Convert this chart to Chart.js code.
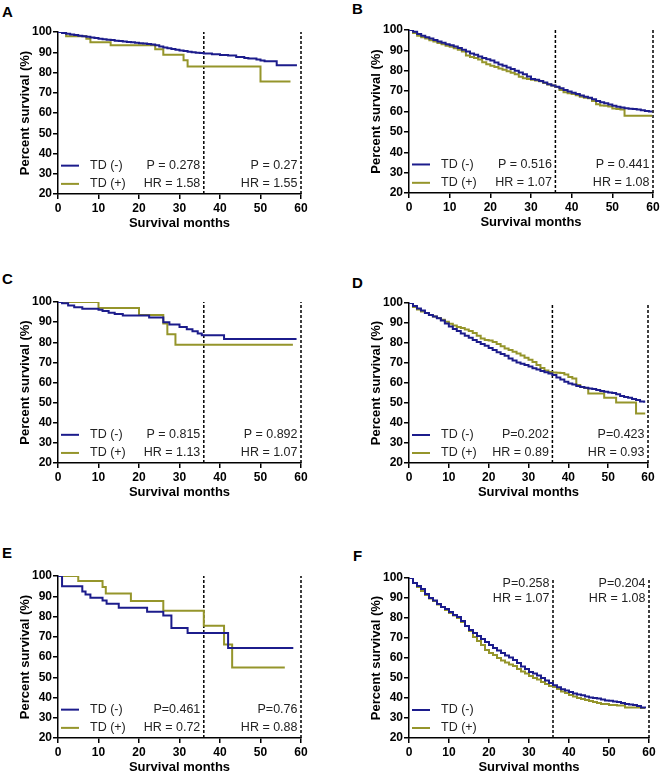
<!DOCTYPE html>
<html>
<head>
<meta charset="utf-8">
<script src="https://cdn.jsdelivr.net/npm/chart.js@4.4.0/dist/chart.umd.min.js"></script>
<style>
body { margin: 0; background: #fff; width: 660px; height: 773px; position: relative; overflow: hidden; }
canvas { position: absolute; }
.lbl { position: absolute; font: bold 15px/15px "Liberation Sans", Arial, sans-serif; color: #000; }
</style>
</head>
<body>
<div class="lbl" style="left:2px;top:4px">A</div>
<div class="lbl" style="left:352px;top:1px">B</div>
<div class="lbl" style="left:2px;top:271px">C</div>
<div class="lbl" style="left:352px;top:275px">D</div>
<div class="lbl" style="left:2px;top:545px">E</div>
<div class="lbl" style="left:353px;top:548px">F</div>
<script>
// ---- data (months, percent survival) ----
var groupNames = ['TD (-)', 'TD (+)'];
var xTicks = [0, 10, 20, 30, 40, 50, 60];
var yTicks = [20, 30, 40, 50, 60, 70, 80, 90, 100];
var cutMonths = [36, 60];

// A
var aNegT = [0,1,2,3,4,5,6,7,8,9,10,11,12,13,14,15,16,17,18,19,20,21,22,23,24,25,26,27,28,29,30,31,32,33,34,35,36,38,40,42,44,46,47,49,50,51,54,59];
var aNegS = [100,99.5,99.1,98.8,98.5,98.2,97.9,97.6,97.3,97.0,96.7,96.4,96.2,96.0,95.7,95.5,95.3,95.1,94.9,94.7,94.5,94.3,94.1,93.8,93.4,92.9,92.4,92.0,91.6,91.2,90.9,90.6,90.3,90.0,89.8,89.6,89.4,89.0,88.7,88.4,87.6,87.2,86.9,86.4,85.9,85.6,83.6,83.6];
var aPosT = [0,2,7,8,13,24,26,31,32,50,57.4];
var aPosS = [100,97.9,96.7,95.0,93.5,91.5,88.8,86.0,83.0,75.6,75.6];
var aStats = ['P = 0.278', 'HR = 1.58', 'P = 0.27', 'HR = 1.55'];

// B
var bT = [0,1,2,3,4,5,6,7,8,9,10,11,12,13,14,15,16,17,18,19,20,21,22,23,24,25,26,27,28,29,30,31,32,33,34,35,36,37,38,39,40,41,42,43,44,45,46,47,48,49,50,51,52,53,54,55,56,57,58,59,59.8];
var bNegS = [100,99.2,98.0,97.2,96.5,95.8,95.1,94.4,93.7,93.0,92.5,91.9,91.2,90.3,89.4,88.5,87.8,87.0,86.3,85.7,85.0,84.0,83.1,82.4,81.6,80.8,80.0,79.2,78.3,77.2,76.0,75.6,75.0,74.2,73.4,72.8,72.2,71.4,70.6,69.8,69.2,68.6,67.9,67.2,66.7,66.0,65.2,64.6,64.0,63.4,62.8,62.3,62.0,61.6,61.4,61.2,61.0,60.6,60.2,60.0,60.0];
var bPosS = [100,98.5,97.2,96.5,95.8,95.0,94.3,93.6,93.0,92.3,91.8,91.1,90.3,89.5,87.5,86.8,86.2,85.5,84.2,83.2,82.5,81.8,81.1,80.5,79.8,79.0,78.3,77.0,76.3,76.0,75.6,75.2,74.8,74.0,73.3,72.7,72.0,70.5,69.5,69.0,68.6,68.0,67.3,66.8,66.5,65.2,63.5,63.0,62.8,62.5,61.5,61.2,61.0,57.9,57.9,57.9,57.9,57.9,57.9,57.9,57.9];
var bStats = ['P = 0.516', 'HR = 1.07', 'P = 0.441', 'HR = 1.08'];

// C
var cNegT = [0,1,2.5,4,6,10,11,12.5,14,16,22.5,26,27.5,30,31.8,33.2,34.5,35.5,41,58.9];
var cNegS = [100,99.4,98.3,97.4,96.7,96.2,95.5,94.7,94.0,93.3,92.3,90.0,88.8,87.6,86.5,85.5,84.3,83.5,81.6,81.6];
var cPosT = [0,10,20,26,27,29,58];
var cPosS = [100,97,93.6,89.3,84,78.8,78.8];
var cStats = ['P = 0.815', 'HR = 1.13', 'P = 0.892', 'HR = 1.07'];

// D
var dT = [0,1,2,3,4,5,6,7,8,9,10,11,12,13,14,15,16,17,18,19,20,21,22,23,24,25,26,27,28,29,30,31,32,33,34,35,36,37,38,39,40,41,42,43,44,45,46,47,48,49,50,51,52,53,54,55,56,57,58,59,59.3];
var dNegS = [100,98.5,97.2,96.2,95.0,94.0,93.2,92.4,91.3,89.7,88.3,87.0,86.0,84.8,83.6,82.6,81.5,80.5,79.5,78.6,77.5,76.5,75.4,74.5,73.6,72.3,71.2,70.3,69.6,69.0,68.2,67.4,66.8,66.0,65.4,64.8,64.0,62.8,61.7,60.6,59.8,59.2,58.5,58.0,57.6,57.3,57.0,56.5,56.0,55.6,55.3,55.0,54.4,53.5,53.0,52.6,52.0,51.5,50.8,50.6,50.6];
var dPosS = [100,98.0,96.8,95.8,95.0,94.0,93.3,92.5,91.6,90.6,89.6,88.8,88.0,87.5,86.8,86.0,85.0,83.6,82.2,81.5,81.3,80.5,79.5,78.4,77.2,76.5,75.6,74.8,73.8,72.6,71.6,70.5,69.0,67.5,66.3,65.5,65.3,65.1,65.0,64.3,63.0,62.2,59.0,58.0,57.5,54.7,54.7,54.7,54.7,52.6,52.6,52.6,50.2,50.2,50.2,50.2,50.2,44.7,44.7,44.7,44.7];
var dStats = ['P=0.202', 'HR = 0.89', 'P=0.423', 'HR = 0.93'];

// E
var eNegT = [0,1,6,6.8,8,11,12,15,22,26,28,32,42,58.1];
var eNegS = [100,95,92.3,90.9,89.2,87.9,86.3,84.3,82.3,80.5,74.3,71.8,64.5,64.5];
var ePosT = [0,5,11,11.8,18,26,36,41,43,56];
var ePosS = [100,97.5,94.6,91.3,87.7,82.9,75.4,66.2,54.8,54.8];
var eStats = ['P=0.461', 'HR = 0.72', 'P=0.76', 'HR = 0.88'];

// F
var fT = [0,1,2,3,4,5,6,7,8,9,10,11,12,13,14,15,16,17,18,19,20,21,22,23,24,25,26,27,28,29,30,31,32,33,34,35,36,37,38,39,40,41,42,43,44,45,46,47,48,49,50,51,52,53,54,55,56,57,58,59];
var fNegS = [100,97.5,96.0,94.5,92.0,90.0,88.8,87.0,85.5,84.5,83.0,81.5,80.5,78.5,76.0,74.0,72.5,71.0,69.5,68.0,66.5,65.0,63.8,62.5,61.3,60.2,59.0,57.5,55.8,54.5,53.0,52.2,51.2,50.0,48.8,47.5,46.4,45.4,44.4,43.7,43.0,42.2,41.8,41.4,40.8,40.3,40.0,39.7,39.3,38.8,38.6,38.3,38.0,37.5,37.0,36.8,36.5,36.0,35.2,34.8];
var fPosS = [100,97.5,95.5,93.5,91.5,89.8,88.5,86.8,85.5,84.0,82.5,81.2,80.0,78.0,76.0,73.5,70.5,68.5,66.5,64.0,62.5,61.5,60.0,58.8,57.8,56.8,56.0,54.5,53.3,52.3,51.0,50.0,49.3,48.0,47.0,46.0,45.5,44.5,43.3,42.5,41.5,40.8,40.0,39.5,39.0,38.5,38.0,37.5,37.0,37.0,36.5,36.5,36.3,36.3,35.3,35.3,35.3,35.3,35.0,35.0];
var fStats = ['P=0.258', 'HR = 1.07', 'P=0.204', 'HR = 1.08'];

// ---- drawing ----
var negColor = '#1c1c8c';
var posColor = '#95952b';
var fontFam = '"Liberation Sans", Arial, sans-serif';
Chart.defaults.font.family = fontFam;

function toPoints(t, s) {
    var pts = [];
    for (var i = 0; i < t.length; i++) pts.push({x: t[i], y: s[i]});
    return pts;
}

// legend + P/HR text inside the plot
var notesPlugin = {
    id: 'notes',
    afterDatasetsDraw: function (chart, args, opts) {
        var ctx = chart.ctx, xs = chart.scales.x, ys = chart.scales.y, area = chart.chartArea;
        ctx.save();
        ctx.font = '12.5px ' + fontFam;
        ctx.textBaseline = 'middle';
        var rows = [34, 25];
        var cols = [negColor, posColor];
        for (var i = 0; i < 2; i++) {
            var py = ys.getPixelForValue(rows[i]);
            ctx.strokeStyle = cols[i];
            ctx.lineWidth = 2;
            ctx.beginPath();
            ctx.moveTo(area.left + 3, py);
            ctx.lineTo(area.left + 21, py);
            ctx.stroke();
            ctx.fillStyle = '#222';
            ctx.textAlign = 'left';
            ctx.fillText(groupNames[i], area.left + 32, py);
        }
        var sRows = opts.statsTop ? [97.2, 89.7] : rows;
        ctx.textAlign = 'right';
        ctx.fillStyle = '#222';
        for (var k = 0; k < 4; k++) {
            var cx = xs.getPixelForValue(cutMonths[k < 2 ? 0 : 1]) - 3.5;
            ctx.fillText(opts.stats[k], cx, ys.getPixelForValue(sRows[k % 2]));
        }
        ctx.restore();
    }
};

function makePanel(p) {
    var cv = document.createElement('canvas');
    var left = p.x0 - 58, top = p.y0 - 32;
    var w = p.x1 - p.x0 + 58 + 14, h = p.y1 - p.y0 + 32 + 56 + 6;
    cv.width = w; cv.height = h;
    cv.style.left = left + 'px'; cv.style.top = top + 'px';
    cv.style.width = w + 'px'; cv.style.height = h + 'px';
    document.body.appendChild(cv);

    var sets = [
        {data: toPoints(p.negT, p.negS), borderColor: negColor, borderWidth: 2, stepped: 'before', pointRadius: 0, fill: false},
        {data: toPoints(p.posT, p.posS), borderColor: posColor, borderWidth: 2, stepped: 'before', pointRadius: 0, fill: false}
    ];
    cutMonths.forEach(function (m) {
        sets.push({data: [{x: m, y: 20}, {x: m, y: 100}], borderColor: '#000', borderWidth: 1.5,
            borderDash: [3, 2], pointRadius: 0, fill: false, clip: false});
    });

    var tickFont = {size: 12, weight: 'bold'};
    var titleFont = {size: 13, weight: 'bold'};
    new Chart(cv, {
        type: 'line',
        data: {datasets: sets},
        options: {
            responsive: false,
            animation: false,
            layout: {padding: {top: 32, right: 14, bottom: 6, left: 0}},
            plugins: {legend: {display: false}, tooltip: {enabled: false}, notes: {stats: p.stats, statsTop: p.statsTop}},
            scales: {
                x: {
                    type: 'linear', min: 0, max: 60,
                    afterBuildTicks: function (s) { s.ticks = xTicks.map(function (v) { return {value: v}; }); },
                    ticks: {font: tickFont, color: '#000', padding: 2, maxRotation: 0},
                    grid: {drawOnChartArea: false, drawTicks: true, tickLength: 5, color: '#000', lineWidth: 1.5},
                    border: {color: '#000', width: 1.5},
                    title: {display: true, text: 'Survival months', font: titleFont, color: '#000', padding: {top: 0, bottom: 19}},
                    afterFit: function (s) { s.height = 56; }
                },
                y: {
                    min: 20, max: 100,
                    afterBuildTicks: function (s) { s.ticks = yTicks.map(function (v) { return {value: v}; }); },
                    ticks: {font: tickFont, color: '#000', padding: 1},
                    grid: {drawOnChartArea: false, drawTicks: true, tickLength: 5, color: '#000', lineWidth: 1.5},
                    border: {color: '#000', width: 1.5},
                    title: {display: true, text: 'Percent survival (%)', font: titleFont, color: '#000', padding: {top: 18, bottom: 0}},
                    afterFit: function (s) { s.width = 58; }
                }
            }
        },
        plugins: [notesPlugin]
    });
}

makePanel({x0: 58, x1: 301, y0: 32, y1: 194, negT: aNegT, negS: aNegS, posT: aPosT, posS: aPosS, stats: aStats});
makePanel({x0: 409, x1: 653, y0: 30, y1: 193, negT: bT, negS: bNegS, posT: bT, posS: bPosS, stats: bStats});
makePanel({x0: 58, x1: 301, y0: 302, y1: 463, negT: cNegT, negS: cNegS, posT: cPosT, posS: cPosS, stats: cStats});
makePanel({x0: 409, x1: 648, y0: 303, y1: 463, negT: dT, negS: dNegS, posT: dT, posS: dPosS, stats: dStats});
makePanel({x0: 58, x1: 301, y0: 576, y1: 738, negT: eNegT, negS: eNegS, posT: ePosT, posS: ePosS, stats: eStats});
makePanel({x0: 409, x1: 649, y0: 578, y1: 738, negT: fT, negS: fNegS, posT: fT, posS: fPosS, stats: fStats, statsTop: true});
</script>
</body>
</html>
